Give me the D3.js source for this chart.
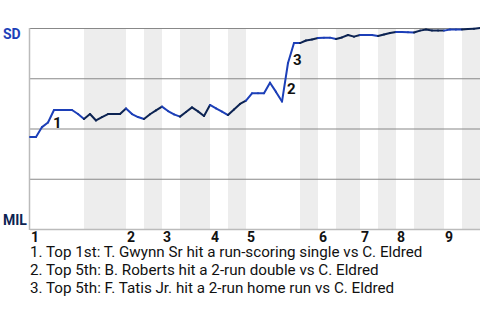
<!DOCTYPE html>
<html>
<head>
<meta charset="utf-8">
<script src="https://d3js.org/d3.v7.min.js"></script>
<style>
  body { margin: 0; background: #fff; }
  svg { display: block; font-family: Roboto, sans-serif; }
</style>
</head>
<body>
<div id="chart"></div>
<script>
// plate appearances in each half inning (top 1st, bottom 1st, ...)
const paPerHalf = [9, 7, 3, 3, 3, 5, 3, 3, 9, 3, 3, 4, 3, 3, 3, 5, 3, 3];
// SD win probability (%) after each plate appearance
const winProb = [
  45.8, 45.8, 50.7, 53.0, 59.2, 59.2, 59.2, 59.2, 57.2, 54.7,
  57.2, 54.0, 55.7, 57.2, 57.2, 57.2, 60.0, 57.2, 55.7, 54.7,
  57.1, 59.0, 60.9, 58.7, 57.0, 55.9, 58.2, 60.5, 58.5, 56.2,
  61.7, 60.0, 58.4, 56.7, 59.5, 62.2, 63.9, 67.5, 67.5, 67.5,
  72.8, 68.2, 63.4, 82.6, 92.5, 92.5, 93.8, 94.3, 95.0, 95.2,
  95.2, 94.5, 95.3, 96.5, 95.7, 96.5, 96.5, 96.5, 96.0, 96.8,
  97.5, 98.0, 98.0, 97.9, 97.8, 98.7, 99.2, 98.8, 98.7, 98.7,
  99.2, 99.2, 99.3, 99.5, 99.6, 100
];
const innings = ["1", "2", "3", "4", "5", "6", "7", "8", "9"];
const gridTicks = [25, 50, 75, 100];
const teams = ["SD", "MIL"];
const eventPA = [4, 43, 44];
const eventLabels = ["1", "2", "3"];
const notes = [
  "1. Top 1st: T. Gwynn Sr hit a run-scoring single vs C. Eldred",
  "2. Top 5th: B. Roberts hit a 2-run double vs C. Eldred",
  "3. Top 5th: F. Tatis Jr. hit a 2-run home run vs C. Eldred"
];

const w = 480, h = 320;
const blue = "#1c3fb8", navy = "#0c2352";

const svg = d3.select("#chart").append("svg")
  .attr("width", w)
  .attr("height", h);

const totalPA = d3.sum(paPerHalf);
const x = d3.scaleLinear().domain([0, totalPA]).range([30, 480]);
const y = d3.scaleLinear().domain([0, 100]).range([229, 28]);

// start index of each half inning
const starts = [];
let acc = 0;
paPerHalf.forEach(n => { starts.push(acc); acc += n; });
const halves = paPerHalf.map((n, i) => ({start: starts[i], end: starts[i] + n, top: i % 2 == 0}));

// shaded bands for bottom halves
svg.selectAll("rect.band")
  .data(halves.filter(d => !d.top))
  .join("rect")
    .attr("class", "band")
    .attr("x", d => x(d.start))
    .attr("width", d => x(d.end) - x(d.start))
    .attr("y", y(100))
    .attr("height", y(0) - y(100))
    .attr("fill", "#ededed");

// grid lines
svg.selectAll("line.grid")
  .data(gridTicks)
  .join("line")
    .attr("class", "grid")
    .attr("x1", x(0)).attr("x2", x(totalPA))
    .attr("y1", d => y(d) + 0.5).attr("y2", d => y(d) + 0.5)
    .attr("stroke", "#888")
    .attr("stroke-width", 1.2);

// left and bottom axis lines
svg.append("line")
  .attr("x1", x(0) - 0.5).attr("x2", x(0) - 0.5)
  .attr("y1", y(100)).attr("y2", y(0) + 1)
  .attr("stroke", "#bbb").attr("stroke-width", 1.5);
svg.append("line")
  .attr("x1", x(0)).attr("x2", x(totalPA))
  .attr("y1", y(0) + 0.5).attr("y2", y(0) + 0.5)
  .attr("stroke", "#bbb").attr("stroke-width", 1.5);

// win probability line, coloured by who is batting
const line = d3.line().x(d => x(d[0])).y(d => y(d[1]));
const segs = d3.range(totalPA).map(i => {
  const half = halves.findIndex(hh => i >= hh.start && i < hh.end);
  return {pts: [[i, winProb[i]], [i + 1, winProb[i + 1]]], top: halves[half].top};
});
svg.selectAll("path.seg")
  .data(segs)
  .join("path")
    .attr("class", "seg")
    .attr("d", d => line(d.pts))
    .attr("fill", "none")
    .attr("stroke", d => d.top ? blue : navy)
    .attr("stroke-width", 2)
    .attr("stroke-linecap", "round");

// event markers
svg.selectAll("text.event")
  .data(eventPA)
  .join("text")
    .attr("class", "event")
    .attr("x", d => x(d - 0.5) + 2)
    .attr("y", d => y((winProb[d - 1] + winProb[d]) / 2) + 11.5)
    .attr("font-size", "15px")
    .attr("font-weight", "bold")
    .attr("fill", "#111")
    .text((d, i) => eventLabels[i]);

// team labels
svg.append("text")
  .attr("x", 3).attr("y", 39)
  .attr("font-size", "14px").attr("font-weight", "bold")
  .attr("fill", blue)
  .text(teams[0]);
svg.append("text")
  .attr("x", 3).attr("y", 225)
  .attr("font-size", "14px").attr("font-weight", "bold")
  .attr("fill", navy)
  .text(teams[1]);

// inning labels
svg.selectAll("text.inning")
  .data(innings)
  .join("text")
    .attr("class", "inning")
    .attr("x", (d, i) => x(starts[i * 2]) + 1)
    .attr("y", 242)
    .attr("font-size", "14px")
    .attr("font-weight", "bold")
    .attr("fill", "#111")
    .text(d => d);

// notes
svg.selectAll("text.note")
  .data(notes)
  .join("text")
    .attr("class", "note")
    .attr("x", 30)
    .attr("y", (d, i) => 257 + i * 18)
    .attr("font-size", "15.2px")
    .attr("fill", "#111")
    .text(d => d);
</script>
</body>
</html>
